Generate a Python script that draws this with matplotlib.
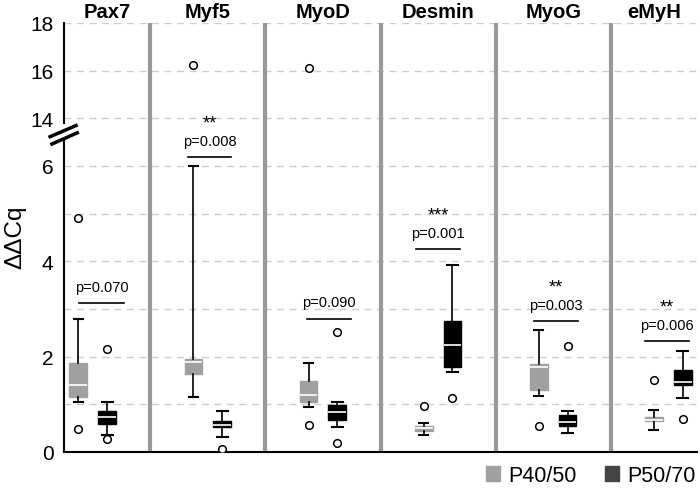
"""
Relative expression (ddCq) of myogenic markers, P40/50 vs P50/70.
Box plots with a broken y axis (0-6 and 14-18).
"""
import numpy as np
import matplotlib
matplotlib.use("Agg")
import matplotlib.pyplot as plt
import matplotlib.patches as mpatches
from matplotlib.ticker import FixedLocator

# ── Data ──────────────────────────────────────────────────────────────────────
genes = ["Pax7", "Myf5", "MyoD", "Desmin", "MyoG", "eMyH"]

p40_whislo = [1.05, 1.16, 0.94, 0.36, 1.17, 0.47]
p40_q1     = [1.16, 1.64, 1.04, 0.45, 1.30, 0.64]
p40_med    = [1.40, 1.89, 1.20, 0.50, 1.78, 0.68]
p40_q3     = [1.87, 1.96, 1.50, 0.54, 1.84, 0.73]
p40_whishi = [2.80, 6.00, 1.87, 0.60, 2.56, 0.88]
p40_fliers = [[0.48, 4.90], [16.25], [0.57, 16.1], [0.97], [0.55], [1.52]]

p50_whislo = [0.36, 0.31, 0.53, 1.67, 0.40, 1.13]
p50_q1     = [0.59, 0.52, 0.67, 1.78, 0.55, 1.41]
p50_med    = [0.73, 0.57, 0.83, 2.24, 0.62, 1.47]
p50_q3     = [0.87, 0.64, 0.99, 2.75, 0.78, 1.73]
p50_whishi = [1.04, 0.87, 1.04, 3.92, 0.85, 2.12]
p50_fliers = [[0.27, 2.16], [0.06], [0.19, 2.51], [1.14], [2.22], [0.69]]

p_labels = ["p=0.070", "p=0.008", "p=0.090", "p=0.001", "p=0.003", "p=0.006"]
stars    = ["", "**", "", "***", "**", "**"]

# ── Layout for significance annotations ──────────────────────────────────────
sig_bar = [3.12, 7.44, 2.80, 4.26, 2.75, 2.32]          # bar height (data units)
sig_x0  = [-0.12, -0.17, -0.14, -0.19, -0.165, -0.20]   # bar start (offset from category)
sig_x1  = [0.27, 0.20, 0.24, 0.19, 0.217, 0.18]         # bar end

# ── Palette ───────────────────────────────────────────────────────────────────
GREY   = "#a0a0a0"
BLACK  = "#000000"
SEP    = "#999999"
GRID   = "#cccccc"
LEG_DK = "#444444"

plt.rcParams.update({
    "font.family": ["Liberation Sans", "DejaVu Sans"],
})

# ── Broken axis via a piecewise scale: 0-6 linear, 6-14 squeezed, 14-18 half ─
def fwd(y):
    y = np.asarray(y, dtype=float)
    return np.where(y <= 6, y,
                    np.where(y >= 14, 7 + (y - 14) / 2, 6 + (y - 6) / 8))

def inv(t):
    t = np.asarray(t, dtype=float)
    return np.where(t <= 6, t,
                    np.where(t >= 7, 14 + (t - 7) * 2, 6 + (t - 6) * 8))

fig = plt.figure(figsize=(7, 4.89), dpi=100)
ax = fig.add_axes([64 / 700, 1 - 453 / 489, 633 / 700, 429 / 489])
ax.set_yscale("function", functions=(fwd, inv))
ax.set_ylim(0, 18)
ax.set_xlim(-0.25, len(genes) - 0.75)

ax.set_yticks([0, 2, 4, 6, 14, 16, 18])
ax.set_yticklabels(["0", "2", "4", "6", "14", "16", "18"], fontsize=15)
ax.yaxis.set_minor_locator(FixedLocator([1, 3, 5]))
ax.tick_params(axis="y", which="both", length=0, pad=7.5)
ax.set_xticks([])
ax.yaxis.grid(True, which="both", color=GRID, linewidth=1,
              linestyle=(0, (5, 4)))
ax.set_axisbelow(True)

for s in ["top", "right", "left"]:
    ax.spines[s].set_visible(False)
ax.spines["bottom"].set_linewidth(1.5)

# ── Boxes ─────────────────────────────────────────────────────────────────────
def stats(lo, q1, med, q3, hi, fl):
    return [dict(whislo=a, q1=b, med=c, q3=d, whishi=e, fliers=f)
            for a, b, c, d, e, f in zip(lo, q1, med, q3, hi, fl)]

x = np.arange(len(genes))
groups = [
    (stats(p40_whislo, p40_q1, p40_med, p40_q3, p40_whishi, p40_fliers), x - 0.125, GREY, 0.08),
    (stats(p50_whislo, p50_q1, p50_med, p50_q3, p50_whishi, p50_fliers), x + 0.125, BLACK, 0.095),
]
for st, pos, col, cw in groups:
    ax.bxp(st, positions=pos, widths=0.155, patch_artist=True,
           boxprops=dict(facecolor=col, edgecolor=col, linewidth=1),
           medianprops=dict(color="white", linewidth=1.2),
           whiskerprops=dict(color=BLACK, linewidth=1.2),
           capprops=dict(color=BLACK, linewidth=1.5),
           flierprops=dict(marker="o", markerfacecolor="white",
                           markeredgecolor=BLACK, markersize=5.5,
                           markeredgewidth=1.1),
           capwidths=cw, manage_ticks=False, zorder=3)

# ── Panel separators and gene titles ──────────────────────────────────────────
for b in x[:-1] + 0.5:
    ax.axvline(b, color=SEP, linewidth=3, zorder=2)

edges = np.concatenate([[ax.get_xlim()[0]], x[:-1] + 0.5, [ax.get_xlim()[1]]])
title_tr = ax.get_xaxis_transform()
for i, g in enumerate(genes):
    ax.text((edges[i] + edges[i + 1]) / 2, 1.014, g, transform=title_tr,
            ha="center", va="baseline", fontsize=14.5, fontweight="bold")

# ── Significance bars ─────────────────────────────────────────────────────────
for i in range(len(genes)):
    yb = sig_bar[i]
    tb = float(fwd(yb))
    xa, xb = x[i] + sig_x0[i], x[i] + sig_x1[i]
    xm = (xa + xb) / 2
    ax.plot([xa, xb], [yb, yb], color=BLACK, lw=1.2, zorder=4)
    ax.text(xm, float(inv(tb + 0.34)), p_labels[i], ha="center",
            va="center", fontsize=10.5, zorder=4)
    if stars[i]:
        ax.text(xm, float(inv(tb + 0.72)), stars[i], ha="center",
                va="center", fontsize=13, zorder=4)

# ── Left spine with break marks ───────────────────────────────────────────────
ax_tr = ax.transAxes
ax.plot([0, 0], [0, 0.725], color=BLACK, lw=1.5, transform=ax_tr, clip_on=False)
ax.plot([0, 0], [0.768, 1], color=BLACK, lw=1.5, transform=ax_tr, clip_on=False)
ax.plot([-0.022, 0.019], [0.735, 0.761], color=BLACK, lw=2.5,
        transform=ax_tr, clip_on=False)
ax.plot([-0.019, 0.021], [0.718, 0.744], color=BLACK, lw=2.5,
        transform=ax_tr, clip_on=False)

fig.text(0.022, 1 - 237 / 489, "ΔΔCq", rotation=90, ha="center",
         va="center", fontsize=17.5)

# ── Legend ────────────────────────────────────────────────────────────────────
handles = [mpatches.Patch(color=GREY, label="P40/50"),
           mpatches.Patch(color=LEG_DK, label="P50/70")]
fig.legend(handles=handles, loc="lower right", ncol=2, frameon=False,
           fontsize=15.5, handlelength=0.65, handleheight=0.65,
           handletextpad=0.4, columnspacing=1.3,
           bbox_to_anchor=(1.022, -0.036))

fig.savefig("out.png", dpi=100, facecolor="white")
